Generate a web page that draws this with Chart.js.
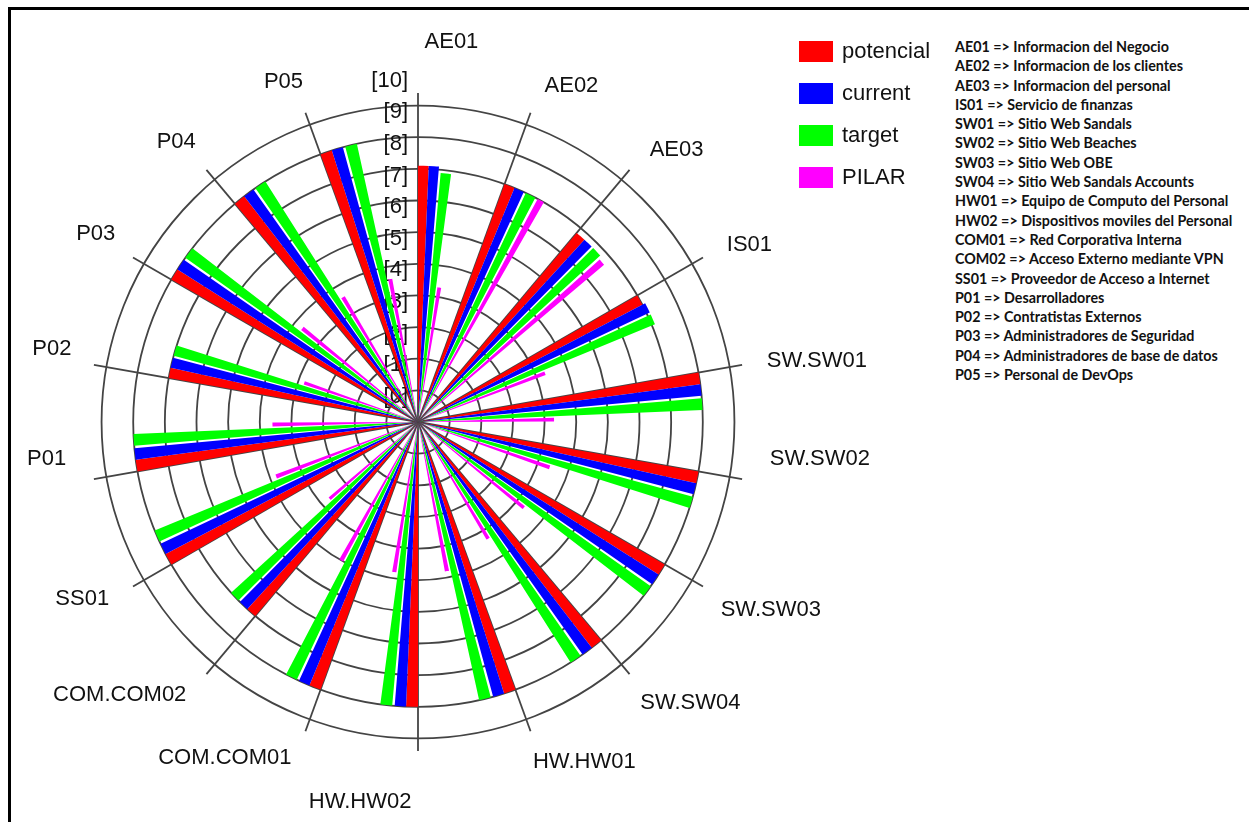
<!DOCTYPE html>
<html>
<head>
<meta charset="utf-8">
<title>Riesgos por activo</title>
<script src="https://cdn.jsdelivr.net/npm/chart.js@4/dist/chart.umd.min.js"></script>
<style>
  html, body { margin: 0; padding: 0; background: #fff; overflow: hidden; }
  body { width: 1249px; height: 822px; position: relative; font-family: 'Liberation Sans', Arial, sans-serif; }
  #marco { position: absolute; left: 8px; top: 7px; right: 0; bottom: -10px; border-top: 3px solid #000; border-left: 3px solid #000; }
  #grafico { position: absolute; left: -2px; top: 22px; width: 903px; height: 801px; }
  #leyenda { position: absolute; left: 799px; top: 41px; }
  #leyenda .item { position: relative; height: 21px; margin-bottom: 21px; }
  #leyenda .caja { position: absolute; left: 0; top: 0; width: 34px; height: 21px; }
  #leyenda .texto { position: absolute; left: 43px; top: -2px; font-size: 22px; line-height: 24px; color: #111; white-space: nowrap; }
  #definiciones { position: absolute; left: 955px; top: 37px; font-family: Lato, 'Open Sans', sans-serif; font-weight: 700; font-size: 14.3px; line-height: 19.3px; color: #111; white-space: nowrap; }
</style>
</head>
<body>
<div id="marco"></div>
<div id="grafico"><canvas id="radar-riesgos"></canvas></div>
<div id="leyenda"></div>
<div id="definiciones"></div>
<script>
// Categorias (activos) en sentido horario desde arriba
const categorias = ['AE01', 'AE02', 'AE03', 'IS01', 'SW.SW01', 'SW.SW02', 'SW.SW03', 'SW.SW04',
  'HW.HW01', 'HW.HW02', 'COM.COM01', 'COM.COM02', 'SS01', 'P01', 'P02', 'P03', 'P04', 'P05'];

// Valores de cada serie (escala 0-10)
const potencial = [8.1, 8.0, 7.8, 8.0, 9.0, 9.0, 9.0, 9.0, 9.0, 9.0, 9.0, 8.0, 9.0, 9.0, 8.0, 9.0, 9.0, 9.0];
const current   = [8.1, 8.0, 7.8, 8.1, 9.0, 9.0, 9.0, 9.0, 9.0, 9.0, 9.0, 8.0, 9.0, 9.0, 8.0, 9.0, 9.0, 9.0];
const target    = [7.9, 8.0, 7.8, 8.1, 9.0, 9.0, 9.0, 9.0, 9.0, 9.0, 9.0, 8.0, 9.0, 9.0, 8.0, 9.0, 9.0, 9.0];
const pilar     = [4.3, 8.0, 7.7, 4.3, 4.3, 4.4, 4.3, 4.3, 4.8, 4.8, 5.0, 3.7, 4.8, 4.6, 3.8, 4.7, 4.6, 4.6];

const series = ['potencial', 'current', 'target', 'PILAR'];
const colores = ['#ff0000', '#0000ff', '#00ff00', '#ff00ff'];

// Etiquetas de los anillos
const marcas = ['[0]', '[1]', '[2]', '[3]', '[4]', '[5]', '[6]', '[7]', '[8]', '[9]', '[10]'];

// Texto explicativo de la derecha
const definiciones = [
  'AE01 => Informacion del Negocio',
  'AE02 => Informacion de los clientes',
  'AE03 => Informacion del personal',
  'IS01 => Servicio de finanzas',
  'SW01 => Sitio Web Sandals',
  'SW02 => Sitio Web Beaches',
  'SW03 => Sitio Web OBE',
  'SW04 => Sitio Web Sandals Accounts',
  'HW01 => Equipo de Computo del Personal',
  'HW02 => Dispositivos moviles del Personal',
  'COM01 => Red Corporativa Interna',
  'COM02 => Acceso Externo mediante VPN',
  'SS01 => Proveedor de Acceso a Internet',
  'P01 => Desarrolladores',
  'P02 => Contratistas Externos',
  'P03 => Administradores de Seguridad',
  'P04 => Administradores de base de datos',
  'P05 => Personal de DevOps'
];

// Reparto de los 20 grados de cada categoria: barra de cada serie o hueco
const ranuras = [
  { serie: 0, ancho: 2.4 },
  { serie: 1, ancho: 2.3 },
  { serie: null, ancho: 0.5 },
  { serie: 2, ancho: 2.4 },
  { serie: null, ancho: 0.6 },
  { serie: 3, ancho: 1.6 },
  { serie: null, ancho: 10.2 }
];

const valoresSerie = [potencial, current, target, pilar];
const valores = [];
const angulos = [];
const fondos = [];
categorias.forEach((cat, i) => {
  ranuras.forEach(r => {
    valores.push(r.serie === null ? 0 : valoresSerie[r.serie][i]);
    angulos.push(r.ancho);
    fondos.push(r.serie === null ? 'rgba(0,0,0,0)' : colores[r.serie]);
  });
});

// Grado donde va el nombre de cada categoria (1 grado despues del radio;
// justo por debajo de la horizontal se acerca al eje horizontal)
function gradoEtiqueta(i) {
  const radio = i * 20;
  if (radio === 100) return radio - 5;
  if (radio === 260) return radio + 5;
  return radio + 1;
}

// Una posicion de etiqueta por grado
const etiquetas = new Array(360).fill('');
categorias.forEach((cat, i) => {
  etiquetas[gradoEtiqueta(i)] = cat;
});

// Etiquetas [0]..[10] sobre el eje vertical, por debajo de las barras
const marcasRadiales = {
  id: 'marcasRadiales',
  beforeDatasetsDraw(chart) {
    const r = chart.scales.r;
    const ctx = chart.ctx;
    ctx.save();
    ctx.font = '22px "Liberation Sans", Arial, sans-serif';
    ctx.fillStyle = '#111';
    ctx.textAlign = 'right';
    ctx.textBaseline = 'middle';
    marcas.forEach((txt, v) => {
      ctx.fillText(txt, r.xCenter - 10, r.yCenter - r.getDistanceFromCenterForValue(v) - 25);
    });
    ctx.restore();
  }
};

function crearGrafico() {
  const ctx = document.getElementById('radar-riesgos').getContext('2d');
  new Chart(ctx, {
    type: 'polarArea',
    data: {
      labels: etiquetas,
      datasets: [{
        data: valores,
        angle: angulos,
        backgroundColor: fondos,
        borderWidth: 0
      }]
    },
    options: {
      responsive: true,
      maintainAspectRatio: false,
      animation: false,
      events: [],
      layout: { padding: 0 },
      scales: {
        r: {
          min: 0,
          max: 10.4,
          bounds: 'data',
          ticks: { display: false, stepSize: 1, includeBounds: false },
          grid: { circular: true, color: '#444', lineWidth: 1.8 },
          angleLines: {
            display: true,
            color: '#444',
            lineWidth: c => (c.index % 20 === 0 ? 1.8 : 0)
          },
          pointLabels: {
            display: true,
            // las etiquetas sobre el eje vertical van algo mas separadas
            padding: c => (Math.abs(Math.cos(c.index * Math.PI / 180)) > 0.99 ? 45 : 24),
            color: '#111',
            font: { family: '"Liberation Sans", Arial, sans-serif', size: 22, lineHeight: 0.55 }
          }
        }
      },
      plugins: {
        legend: { display: false },
        tooltip: { enabled: false }
      }
    },
    plugins: [marcasRadiales]
  });
}

function crearLeyenda() {
  const cont = document.getElementById('leyenda');
  series.forEach((nombre, i) => {
    const item = document.createElement('div');
    item.className = 'item';
    const caja = document.createElement('div');
    caja.className = 'caja';
    caja.style.background = colores[i];
    const texto = document.createElement('div');
    texto.className = 'texto';
    texto.textContent = nombre;
    item.appendChild(caja);
    item.appendChild(texto);
    cont.appendChild(item);
  });
}

function crearDefiniciones() {
  const cont = document.getElementById('definiciones');
  definiciones.forEach(linea => {
    const d = document.createElement('div');
    d.textContent = linea;
    cont.appendChild(d);
  });
}

document.addEventListener('DOMContentLoaded', function() {
  crearLeyenda();
  crearDefiniciones();
  crearGrafico();
});
</script>
</body>
</html>
